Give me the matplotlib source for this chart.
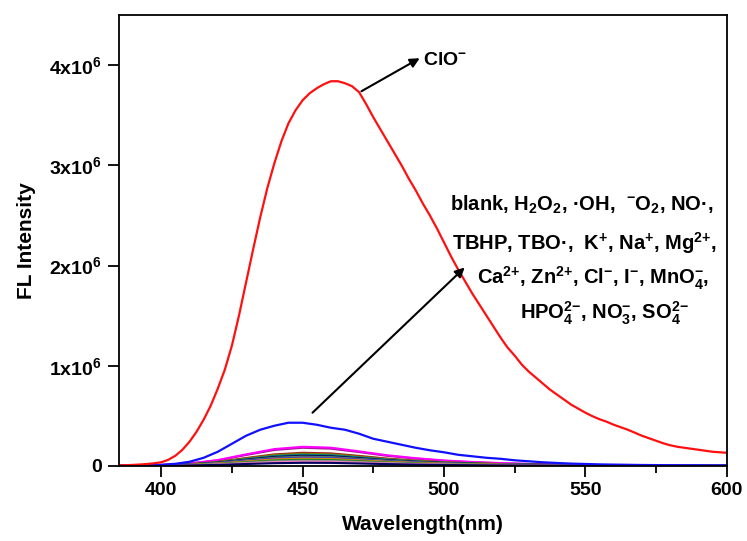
import matplotlib
matplotlib.use("Agg")
import matplotlib.pyplot as plt
from matplotlib.ticker import MultipleLocator
import numpy as np

plt.rcParams['font.family'] = ['Liberation Sans', 'DejaVu Sans']
plt.rcParams['font.weight'] = 'bold'
plt.rcParams['mathtext.fontset'] = 'custom'
plt.rcParams['mathtext.rm'] = 'Liberation Sans:bold'
plt.rcParams['mathtext.it'] = 'Liberation Sans:bold'
plt.rcParams['mathtext.bf'] = 'Liberation Sans:bold'
plt.rcParams['mathtext.sf'] = 'Liberation Sans:bold'
plt.rcParams['mathtext.default'] = 'bf'

# intensities in units of 1e6
# ClO- (red), read every 2.5 nm
wl_red = np.arange(385, 600.1, 2.5)
clo = [0.004, 0.006, 0.009, 0.013, 0.018, 0.025, 0.035, 0.06,
       0.10, 0.16, 0.24, 0.34, 0.46, 0.60, 0.77, 0.96,
       1.20, 1.50, 1.83, 2.16, 2.48, 2.77, 3.02, 3.24,
       3.42, 3.55, 3.65, 3.72, 3.77, 3.81, 3.84, 3.84,
       3.82, 3.79, 3.73, 3.61, 3.48, 3.36, 3.24, 3.12,
       3.00, 2.87, 2.75, 2.62, 2.50, 2.37, 2.23, 2.09,
       1.96, 1.84, 1.72, 1.61, 1.50, 1.39, 1.28, 1.18,
       1.10, 1.01, 0.94, 0.88, 0.82, 0.76, 0.71, 0.66,
       0.61, 0.57, 0.53, 0.495, 0.465, 0.44, 0.41, 0.385,
       0.36, 0.33, 0.30, 0.275, 0.25, 0.225, 0.205, 0.19,
       0.18, 0.17, 0.16, 0.15, 0.14, 0.135, 0.13]

# strongest of the other analytes (blue), every 5 nm
wl = np.arange(385, 601, 5)
blue_curve = [0.0, 0.002, 0.005, 0.01, 0.02, 0.04, 0.08, 0.14, 0.22, 0.30,
              0.36, 0.40, 0.43, 0.43, 0.41, 0.38, 0.36, 0.32, 0.27, 0.24,
              0.21, 0.18, 0.155, 0.135, 0.11, 0.095, 0.08, 0.07, 0.055, 0.045,
              0.035, 0.028, 0.022, 0.018, 0.014, 0.012, 0.01, 0.008, 0.007, 0.006,
              0.005, 0.005, 0.004, 0.004]

# the weak ones, read on a 10 nm grid
wl_low = np.arange(380, 601, 10)
c_magenta = [0, .002, .008, .023, .057, .114, .167, .19, .181, .144, .105, .076, .053, .038, .027, .019, .013, .010, .007, .005, .003, .002, .002]
c_purple = [0, .002, .007, .022, .054, .108, .158, .18, .171, .137, .099, .072, .050, .036, .025, .018, .013, .009, .006, .005, .003, .002, .002]
c_wine = [0, .001, .005, .016, .039, .078, .114, .13, .124, .099, .072, .052, .036, .026, .018, .013, .009, .007, .005, .003, .002, .002, .001]
c_olive = [0, .001, .005, .014, .036, .072, .106, .12, .114, .091, .066, .048, .034, .024, .017, .012, .008, .006, .004, .003, .002, .001, .001]
c_dcyan = [0, .001, .004, .013, .033, .066, .097, .11, .105, .084, .061, .044, .031, .022, .015, .011, .008, .006, .004, .003, .002, .001, .001]
c_navy = [0, .001, .004, .012, .030, .060, .088, .10, .095, .076, .055, .040, .028, .020, .014, .010, .007, .005, .004, .003, .002, .001, .001]
c_black = [0, .001, .004, .011, .029, .057, .084, .095, .090, .072, .052, .038, .027, .019, .013, .010, .007, .005, .003, .002, .002, .001, .001]
c_teal = [0, .001, .004, .011, .027, .054, .079, .09, .086, .068, .050, .036, .025, .018, .013, .009, .006, .005, .003, .002, .002, .001, .001]
c_gray = [0, .001, .003, .010, .026, .051, .075, .085, .081, .065, .047, .034, .024, .017, .012, .009, .006, .004, .003, .002, .002, .001, .001]
c_royal = [0, .001, .003, .010, .024, .048, .070, .08, .076, .061, .044, .032, .022, .016, .011, .008, .006, .004, .003, .002, .001, .001, .001]
c_violet = [0, .001, .003, .009, .023, .045, .066, .075, .071, .057, .041, .030, .021, .015, .011, .008, .005, .004, .003, .002, .001, .001, .001]
c_orange = [0, .001, .003, .008, .021, .042, .062, .07, .067, .053, .039, .028, .020, .014, .010, .007, .005, .004, .002, .002, .001, .001, .001]
c_dyellow = [0, .001, .003, .008, .020, .039, .057, .065, .062, .049, .036, .026, .018, .013, .009, .007, .005, .003, .002, .002, .001, .001, .001]
c_green = [0, .001, .002, .007, .018, .036, .053, .06, .057, .046, .033, .024, .017, .012, .008, .006, .004, .003, .002, .002, .001, .001, .001]
c_lgray = [0, .001, .002, .006, .015, .030, .044, .05, .048, .038, .028, .020, .014, .010, .007, .005, .004, .003, .002, .001, .001, .001, .001]
c_pink = [0, 0, .002, .005, .012, .024, .035, .04, .038, .030, .022, .016, .011, .008, .006, .004, .003, .002, .001, .001, .001, 0, 0]
c_navy2 = [0, 0, .001, .004, .009, .018, .026, .03, .029, .023, .017, .012, .008, .006, .004, .003, .002, .002, .001, .001, .001, 0, 0]

low_curves = [c_purple, c_magenta, c_wine, c_olive, c_dcyan, c_navy, c_black, c_teal,
              c_gray, c_royal, c_violet, c_orange, c_dyellow, c_green, c_lgray, c_pink, c_navy2]
low_colors = ['#a01890', '#ff00ff', '#a02020', '#808000', '#008080', '#000080', '#202020', '#3f8f8f',
              '#606060', '#2040c0', '#8040c0', '#ff8000', '#b0a000', '#208020', '#909090', '#ff80c0', '#000060']

fig = plt.figure(figsize=(7.47, 5.41), dpi=100)
ax = fig.add_axes([0.159, 0.139, 0.814, 0.833])

for vals, col in zip(low_curves, low_colors):
    ax.plot(wl_low, np.array(vals) * 1e6, color=col, lw=1.5)
ax.plot(wl, np.array(blue_curve) * 1e6, color='#1010ff', lw=1.6)
ax.plot(wl_red, np.array(clo) * 1e6, color='#ff1010', lw=1.6)

ax.set_xlim(385, 600)
ax.set_ylim(0, 4.5e6)
ax.xaxis.set_major_locator(MultipleLocator(50))
ax.xaxis.set_minor_locator(MultipleLocator(25))
ax.set_yticks([0, 1e6, 2e6, 3e6, 4e6])
ax.set_yticklabels(['0', '1x10$^{6}$', '2x10$^{6}$', '3x10$^{6}$', '4x10$^{6}$'])
ax.tick_params(axis='both', which='major', direction='out', length=8, width=1.3, labelsize=14, pad=4)
ax.tick_params(axis='x', which='minor', direction='out', length=5, width=1.3)
for s in ax.spines.values():
    s.set_linewidth(1.3)

ax.set_xlabel('Wavelength(nm)', fontsize=15, fontweight='bold', labelpad=11)
ax.set_ylabel('FL Intensity', fontsize=15, fontweight='bold', labelpad=10)

# arrows
ax.annotate('', xy=(491.4, 4.07e6), xytext=(470.8, 3.74e6),
            arrowprops=dict(arrowstyle='-|>', color='k', lw=1.5, mutation_scale=14, shrinkA=0, shrinkB=0))
ax.text(492.5, 4.05e6, 'ClO$^{-}$', fontsize=14, ha='left', va='center')
ax.annotate('', xy=(507.3, 1.98e6), xytext=(453.5, 0.53e6),
            arrowprops=dict(arrowstyle='-|>', color='k', lw=1.5, mutation_scale=14, shrinkA=0, shrinkB=0))

lines = ['blank, H$_{2}$O$_{2}$, ·OH,  $^{-}$O$_{2}$, NO·,',
         'TBHP, TBO·,  K$^{+}$, Na$^{+}$, Mg$^{2{+}}$,',
         'Ca$^{2{+}}$, Zn$^{2{+}}$, Cl$^{-}$, I$^{-}$, MnO$_{4}^{-}$,',
         'HPO$_{4}^{2{-}}$, NO$_{3}^{-}$, SO$_{4}^{2{-}}$']
line_x = [582, 584, 593, 604]
line_y = [205, 243, 278, 313]
for t, x, y in zip(lines, line_x, line_y):
    fig.text(x / 747, 1 - y / 541, t, fontsize=14.5, ha='center', va='center')

fig.savefig('out.png', dpi=100)
